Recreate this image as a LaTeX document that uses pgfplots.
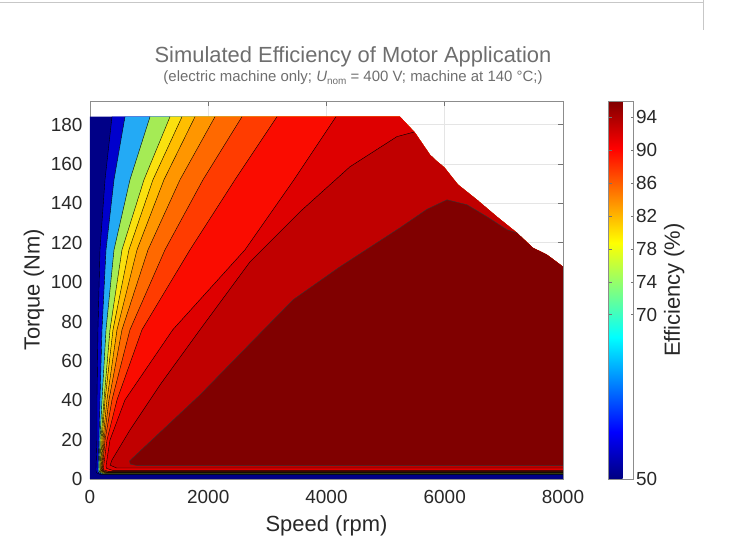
\documentclass[border=0pt]{standalone}
\usepackage{fontspec}
\setmainfont{Liberation Sans}
\usepackage{pgfplots}
\pgfplotsset{compat=1.18}
\definecolor{c0}{RGB}{0,0,135}
\definecolor{c1}{RGB}{0,0,205}
\definecolor{c2}{RGB}{35,170,245}
\definecolor{c3}{RGB}{165,235,85}
\definecolor{c4}{RGB}{250,225,15}
\definecolor{c5}{RGB}{255,190,0}
\definecolor{c6}{RGB}{255,150,0}
\definecolor{c7}{RGB}{255,105,0}
\definecolor{c8}{RGB}{255,60,0}
\definecolor{c9}{RGB}{250,12,0}
\definecolor{c10}{RGB}{222,0,0}
\definecolor{c11}{RGB}{192,0,0}
\definecolor{c12}{RGB}{128,0,0}
\definecolor{txt}{RGB}{40,40,40}
\definecolor{ttl}{RGB}{110,110,110}
\begin{document}
\begin{tikzpicture}
\begin{axis}[
  at={(0,0)}, anchor=south west,
  scale only axis, width=473bp, height=378bp,
  xmin=0, xmax=8000, ymin=0, ymax=192,
  xtick={0,2000,4000,6000,8000},
  ytick={0,20,...,180},
  scaled ticks=false,
  /pgf/number format/1000 sep={},
  /pgf/number format/assume math mode=true,
  tick pos=both, tick align=inside,
  major tick length=5bp,
  grid=major, grid style={black!10, line width=0.5bp},
  axis line style={black!45, line width=0.6bp},
  tick style={black!55, line width=0.5bp},
  ticklabel style={font=\fontsize{19}{20}\selectfont, text=txt},
  xticklabel style={yshift=-8bp},
  yticklabel style={xshift=-4bp},
  xlabel={Speed (rpm)}, ylabel={Torque (Nm)},
  xlabel style={yshift=-5bp},
  label style={font=\fontsize{22}{24}\selectfont, text=txt},
  colorbar, colormap/jet, point meta min=50, point meta max=96,
  colorbar style={
    at={(parent axis.north east)}, anchor=north west, xshift=37bp,
    scale only axis, width=25bp, height=378bp,
    ytick={50,70,74,78,82,86,90,94},
    ylabel={Efficiency (\%)},
    tick align=inside, major tick length=3bp,
    axis line style={black!45, line width=0.6bp},
    tick style={black!55, line width=0.5bp},
    /pgf/number format/assume math mode=true,
    ticklabel style={font=\fontsize{19}{20}\selectfont, text=txt},
    yticklabel style={xshift=-1bp},
    label style={font=\fontsize{22}{24}\selectfont, text=txt},
  },
]
% ---- filled regions (nested, low to high efficiency) ----
\addplot[fill=c0, draw=none] coordinates {(0,0) (0,184) (5242,184) (5496,175.9) (5749,164.7) (5850,161.8) (5990,158.3) (6223,149.5) (6544,141.8) (6882,133.2) (7221,125.0) (7491,117.4) (7728,113.9) (8000,107.8) (8000,0)} -- cycle;
\addplot[fill=c1, draw=none] coordinates {(8000,2.2) (180,2.2) (110,3.2) (101,4.6) (118,19.8) (118,40.2) (135,75.8) (169,116.4) (254,152) (372,184) (5242,184) (5496,175.9) (5749,164.7) (5850,161.8) (5990,158.3) (6223,149.5) (6544,141.8) (6882,133.2) (7221,125.0) (7491,117.4) (7728,113.9) (8000,107.8)} -- cycle;
\addplot[fill=c2, draw=none] coordinates {(8000,2.4) (200,2.4) (140,3.4) (135,4.6) (152,19.8) (169,40.2) (203,75.8) (271,116.4) (406,152) (592,184) (5242,184) (5496,175.9) (5749,164.7) (5850,161.8) (5990,158.3) (6223,149.5) (6544,141.8) (6882,133.2) (7221,125.0) (7491,117.4) (7728,113.9) (8000,107.8)} -- cycle;
\addplot[fill=c3, draw=none] coordinates {(8000,2.6) (220,2.6) (160,3.6) (152,4.6) (169,19.8) (203,40.2) (271,75.8) (406,116.4) (676,152) (1015,184) (5242,184) (5496,175.9) (5749,164.7) (5850,161.8) (5990,158.3) (6223,149.5) (6544,141.8) (6882,133.2) (7221,125.0) (7491,117.4) (7728,113.9) (8000,107.8)} -- cycle;
\addplot[fill=c4, draw=none] coordinates {(8000,2.8) (240,2.8) (175,3.8) (169,4.6) (186,19.8) (237,40.2) (338,75.8) (541,116.4) (913,152) (1353,184) (5242,184) (5496,175.9) (5749,164.7) (5850,161.8) (5990,158.3) (6223,149.5) (6544,141.8) (6882,133.2) (7221,125.0) (7491,117.4) (7728,113.9) (8000,107.8)} -- cycle;
\addplot[fill=c5, draw=none] coordinates {(8000,3.0) (260,3.0) (190,4.0) (180,4.6) (203,19.8) (254,40.2) (389,75.8) (659,116.4) (1065,152) (1556,184) (5242,184) (5496,175.9) (5749,164.7) (5850,161.8) (5990,158.3) (6223,149.5) (6544,141.8) (6882,133.2) (7221,125.0) (7491,117.4) (7728,113.9) (8000,107.8)} -- cycle;
\addplot[fill=c6, draw=none] coordinates {(8000,3.2) (270,3.2) (200,4.1) (190,4.6) (220,19.8) (287,40.2) (457,75.8) (795,116.4) (1251,152) (1776,184) (5242,184) (5496,175.9) (5749,164.7) (5850,161.8) (5990,158.3) (6223,149.5) (6544,141.8) (6882,133.2) (7221,125.0) (7491,117.4) (7728,113.9) (8000,107.8)} -- cycle;
\addplot[fill=c7, draw=none] coordinates {(8000,3.4) (280,3.4) (210,4.2) (200,4.6) (237,19.8) (321,40.2) (541,75.8) (981,116.4) (1522,152) (2114,184) (5242,184) (5496,175.9) (5749,164.7) (5850,161.8) (5990,158.3) (6223,149.5) (6544,141.8) (6882,133.2) (7221,125.0) (7491,117.4) (7728,113.9) (8000,107.8)} -- cycle;
\addplot[fill=c8, draw=none] coordinates {(8000,3.6) (290,3.6) (220,4.3) (210,4.8) (254,19.8) (372,40.2) (676,75.8) (1268,116.4) (1911,152) (2570,184) (5242,184) (5496,175.9) (5749,164.7) (5850,161.8) (5990,158.3) (6223,149.5) (6544,141.8) (6882,133.2) (7221,125.0) (7491,117.4) (7728,113.9) (8000,107.8)} -- cycle;
\addplot[fill=c9, draw=none] coordinates {(8000,3.9) (310,3.9) (235,4.6) (225,5.2) (287,19.8) (457,40.2) (879,75.8) (1691,116.4) (2452,152) (3162,184) (5242,184) (5496,175.9) (5749,164.7) (5850,161.8) (5990,158.3) (6223,149.5) (6544,141.8) (6882,133.2) (7221,125.0) (7491,117.4) (7728,113.9) (8000,107.8)} -- cycle;
\addplot[fill=c10, draw=none] coordinates {(8000,4.4) (380,4.4) (280,5.4) (270,6.5) (338,19.8) (592,40.2) (1400,75.8) (2621,116.4) (3450,152) (4160,184) (5242,184) (5496,175.9) (5749,164.7) (5850,161.8) (5990,158.3) (6223,149.5) (6544,141.8) (6882,133.2) (7221,125.0) (7491,117.4) (7728,113.9) (8000,107.8)} -- cycle;
\addplot[fill=c11, draw=none] coordinates {(8000,5.6) (450,5.6) (340,7) (372,9.7) (676,24.9) (1184,47.8) (1860,75.8) (2706,110.3) (3551,135.7) (4397,158.6) (5191,173.9) (5479,176.2) (5749,164.7) (5850,161.8) (5990,158.3) (6223,149.5) (6544,141.8) (6882,133.2) (7221,125.0) (7491,117.4) (7728,113.9) (8000,107.8)} -- cycle;
\addplot[fill=c12, draw=none] coordinates {(8000,6.8) (800,6.8) (680,7.6) (670,9.2) (1860,42.7) (2650,67) (3433,91.0) (4228,107.8) (5243,127.6) (5700,137) (6038,141.8) (6376,139.3) (6714,133.2) (7052,126.6) (7221,125.0) (7491,117.4) (7728,113.9) (8000,107.8)} -- cycle;
% ---- contour lines ----
\addplot[black, line width=0.4bp] coordinates {(8000,2.2) (180,2.2) (110,3.2) (101,4.6) (118,19.8) (118,40.2) (135,75.8) (169,116.4) (254,152) (372,184)};
\addplot[black, line width=0.4bp] coordinates {(8000,2.4) (200,2.4) (140,3.4) (135,4.6) (152,19.8) (169,40.2) (203,75.8) (271,116.4) (406,152) (592,184)};
\addplot[black, line width=0.4bp] coordinates {(8000,2.6) (220,2.6) (160,3.6) (152,4.6) (169,19.8) (203,40.2) (271,75.8) (406,116.4) (676,152) (1015,184)};
\addplot[black, line width=0.4bp] coordinates {(8000,2.8) (240,2.8) (175,3.8) (169,4.6) (186,19.8) (237,40.2) (338,75.8) (541,116.4) (913,152) (1353,184)};
\addplot[black, line width=0.4bp] coordinates {(8000,3.0) (260,3.0) (190,4.0) (180,4.6) (203,19.8) (254,40.2) (389,75.8) (659,116.4) (1065,152) (1556,184)};
\addplot[black, line width=0.4bp] coordinates {(8000,3.2) (270,3.2) (200,4.1) (190,4.6) (220,19.8) (287,40.2) (457,75.8) (795,116.4) (1251,152) (1776,184)};
\addplot[black, line width=0.4bp] coordinates {(8000,3.4) (280,3.4) (210,4.2) (200,4.6) (237,19.8) (321,40.2) (541,75.8) (981,116.4) (1522,152) (2114,184)};
\addplot[black, line width=0.4bp] coordinates {(8000,3.6) (290,3.6) (220,4.3) (210,4.8) (254,19.8) (372,40.2) (676,75.8) (1268,116.4) (1911,152) (2570,184)};
\addplot[black, line width=0.4bp] coordinates {(8000,3.9) (310,3.9) (235,4.6) (225,5.2) (287,19.8) (457,40.2) (879,75.8) (1691,116.4) (2452,152) (3162,184)};
\addplot[black, line width=0.4bp] coordinates {(8000,4.4) (380,4.4) (280,5.4) (270,6.5) (338,19.8) (592,40.2) (1400,75.8) (2621,116.4) (3450,152) (4160,184)};
\addplot[black, line width=0.4bp] coordinates {(8000,5.6) (450,5.6) (340,7) (372,9.7) (676,24.9) (1184,47.8) (1860,75.8) (2706,110.3) (3551,135.7) (4397,158.6) (5191,173.9) (5479,176.2)};
\addplot[black!80, line width=0.4bp] coordinates {(8000,6.8) (800,6.8) (680,7.6) (670,9.2) (1860,42.7) (2650,67) (3433,91.0) (4228,107.8) (5243,127.6) (5700,137) (6038,141.8) (6376,139.3) (6714,133.2) (7052,126.6) (7221,125.0)};
\end{axis}
% titles
\node[anchor=base, text=ttl, font=\fontsize{22}{24}\selectfont, inner sep=0pt] at (263bp,416bp) {Simulated Efficiency of Motor Application};
\node[anchor=base, text=ttl, font=\fontsize{15}{17}\selectfont, inner sep=0pt] at (263bp,397bp) {(electric machine only; {\itshape U}\raisebox{-0.35ex}{\fontsize{10}{10}\selectfont nom} = 400 V; machine at 140 °C;)};
% screenshot frame lines
\draw[black!22, line width=1bp] (-90bp,476bp) -- (613bp,476bp);
\draw[black!22, line width=1bp] (613bp,479bp) -- (613bp,449bp);
\pgfresetboundingbox
\path[use as bounding box] (-90bp,-77bp) rectangle (659bp,479bp);
\end{tikzpicture}
\end{document}
